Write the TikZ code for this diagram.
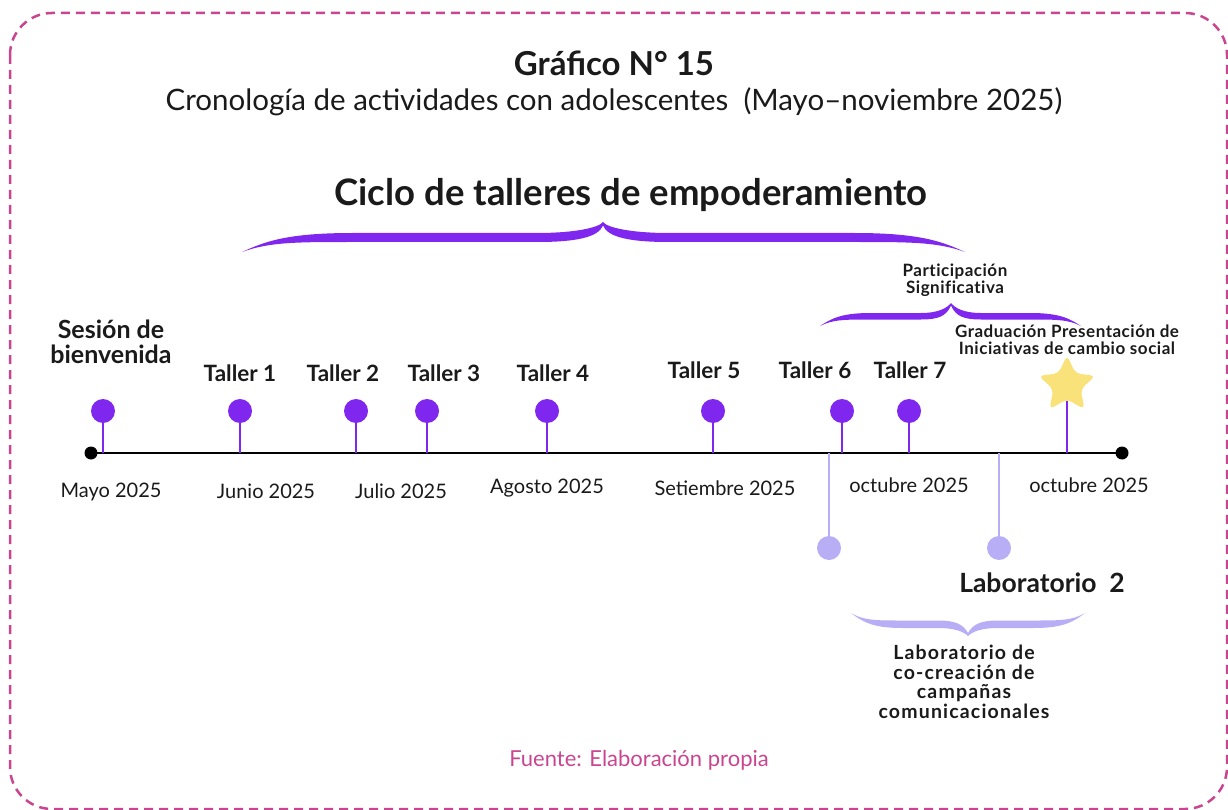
\documentclass[tikz,border=0pt]{standalone}
\usepackage{fontspec}
\setmainfont{Lato}
\usetikzlibrary{shapes.geometric}
\definecolor{pinkb}{HTML}{C9458F}
\definecolor{purp}{HTML}{7F27EF}
\definecolor{lav}{HTML}{B7AEF5}
\definecolor{stary}{HTML}{F9E27A}
\definecolor{ink}{HTML}{1A1A1A}
\newcommand{\fs}[2][]{\fontsize{#2}{#2}\selectfont}
\newcommand{\fsb}[2]{\fontsize{#1}{#2}\selectfont}
% x1 xm x2 yend yout t ytip color len
\newcommand{\tlbrace}[9]{%
 \fill[#8] (#1,#4) .. controls ({#1+0.2*#9},{#5+#6}) and ({#1+0.4*#9},#5) .. ({#1+#9},#5)
  -- ({#2-0.6*#9},#5) .. controls ({#2-0.25*#9},#5) and ({#2-4},{(#5+#7)/2}) .. (#2,#7)
  .. controls ({#2+4},{(#5+#7)/2}) and ({#2+0.25*#9},#5) .. ({#2+0.6*#9},#5)
  -- ({#3-#9},#5) .. controls ({#3-0.4*#9},#5) and ({#3-0.2*#9},{#5+#6}) .. (#3,#4)
  .. controls ({#3-0.25*#9},{#5+#6}) and ({#3-0.5*#9},{#5+#6}) .. ({#3-#9},{#5+#6})
  -- ({#2+0.6*#9},{#5+#6}) .. controls ({#2+0.25*#9},{#5+#6}) and ({#2+5},{#5+0.5*#6}) .. (#2,{#7+0.4*#6})
  .. controls ({#2-5},{#5+0.5*#6}) and ({#2-0.25*#9},{#5+#6}) .. ({#2-0.6*#9},{#5+#6})
  -- ({#1+#9},{#5+#6}) .. controls ({#1+0.5*#9},{#5+#6}) and ({#1+0.25*#9},{#5+#6}) .. (#1,#4) -- cycle;}
\tikzset{
  pindot/.style={circle,fill=purp,minimum size=24pt,inner sep=0pt},
  labdot/.style={circle,fill=lav,minimum size=24pt,inner sep=0pt},
  stem/.style={draw=purp,line width=2.2pt},
  labstem/.style={draw=lav,line width=2.2pt},
  tall/.style={font=\bfseries\fs{22.5},text=ink,inner sep=0pt},
  month/.style={font=\fs{20},text=ink,inner sep=0pt},
  small/.style={font=\bfseries\fsb{17}{17}\addfontfeature{LetterSpace=3,Ligatures=NoCommon},text=ink,align=center,inner sep=0pt},
}
\begin{document}
\begin{tikzpicture}[x=1pt,y=-1pt]
\useasboundingbox (0,0) rectangle (1228,810);
\draw[pinkb,line width=2.5pt,dash pattern=on 9pt off 6pt,rounded corners=42pt] (10,13) rectangle (1227,809);
% titles
\node[font=\bfseries\fs{33},text=ink] (title) at (614,63) {Gráfico N° 15};
\node[font=\fs{29.5},text=ink] (sub) at (614,102) {Cronología de actividades con adolescentes\ \ (Mayo–noviembre 2025)};
\node[font=\bfseries\fs{36.5},text=ink] (ciclo) at (631,195) {Ciclo de talleres de empoderamiento};
% braces
\tlbrace{242}{603}{965}{252}{233}{9}{222}{purp}{110}
\tlbrace{820}{951}{1081}{326}{313}{6.5}{303}{purp}{50}
\tlbrace{851}{968}{1085}{613}{628}{-7.5}{636}{lav}{50}
% timeline
\coordinate (tlA) at (91,453);
\coordinate (tlB) at (1122,453);
\draw[black,line width=2.6pt] (tlA) -- (tlB);
\fill (tlA) circle (6.5pt);
\fill (tlB) circle (6.5pt);
% pins
\node[pindot] (p0) at (103,411) {};
\node[pindot] (p1) at (240,411) {};
\node[pindot] (p2) at (356,411) {};
\node[pindot] (p3) at (427,411) {};
\node[pindot] (p4) at (547,411) {};
\node[pindot] (p5) at (713,411) {};
\node[pindot] (p6) at (842,411) {};
\node[pindot] (p7) at (909,411) {};
\foreach \p in {p0,p1,p2,p3,p4,p5,p6,p7}{\draw[stem] (\p.south) -- (\p |- tlA);}
\node[star,star points=5,star point ratio=2.1,fill=stary,minimum size=60pt,inner sep=0pt,rounded corners=5pt] (star) at (1067,385) {};
\draw[stem] (star.center) ++(0,16) coordinate (sb) -- (sb |- tlA);
% lab pins
\node[labdot] (l1) at (829,548) {};
\node[labdot] (l2) at (999,548) {};
\draw[labstem] (l1.north) -- (l1 |- tlA);
\draw[labstem] (l2.north) -- (l2 |- tlA);
% labels
\node[tall,align=center,font=\bfseries\fsb{25}{25}] (ses) at (111,342) {Sesión de\\bienvenida};
\node[tall] (t1) at (240,373) {Taller 1};
\node[tall] (t2) at (343,373) {Taller 2};
\node[tall] (t3) at (444,373) {Taller 3};
\node[tall] (t4) at (553,373) {Taller 4};
\node[tall] (t5) at (704,370) {Taller 5};
\node[tall] (t6) at (815,370) {Taller 6};
\node[tall] (t7) at (910,370) {Taller 7};
\node[month] (m1) at (111,492) {Mayo 2025};
\node[month] (m2) at (266,491) {Junio 2025};
\node[month] (m3) at (401,491) {Julio 2025};
\node[month] (m4) at (547,488) {Agosto 2025};
\node[month] (m5) at (725,488) {Setiembre 2025};
\node[month] (m6) at (909,485) {octubre 2025};
\node[month] (m7) at (1089,485) {octubre 2025};
\node[small] (part) at (955,280) {Participación\\Significativa};
\node[small] (grad) at (1067,340) {Graduación Presentación de\\Iniciativas de cambio social};
\node[tall,font=\bfseries\fs{26.5}] (lab2) at (1042,583) {Laboratorio\ \ 2};
\node[small,font=\bfseries\fsb{19.5}{19.5}\addfontfeature{LetterSpace=6,Ligatures=NoCommon}] (labco) at (964,682) {Laboratorio de\\co-creación de\\campañas\\comunicacionales};
\node[font=\fs{22},text=pinkb] (fuente) at (639,760) {Fuente: Elaboración propia};
\end{tikzpicture}
\end{document}
